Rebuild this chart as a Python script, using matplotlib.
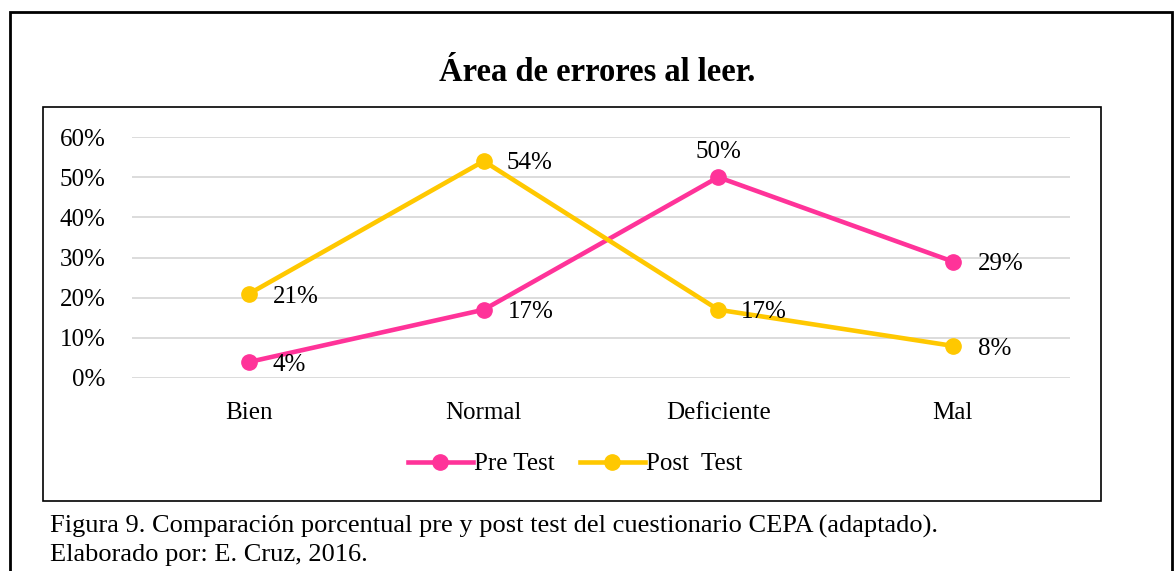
import matplotlib.pyplot as plt
from matplotlib.patches import Rectangle

# data
categories = ['Bien', 'Normal', 'Deficiente', 'Mal']
pre_test = [0.04, 0.17, 0.50, 0.29]
post_test = [0.21, 0.54, 0.17, 0.08]
yticks = [0.0, 0.1, 0.2, 0.3, 0.4, 0.5, 0.6]

pink = '#FF3399'
gold = '#FFC800'

plt.rcParams['font.family'] = ['Liberation Serif', 'DejaVu Serif']

W, H = 1175, 571
fig = plt.figure(figsize=(W / 100, H / 100), dpi=100)

# outer frame and inner chart frame
fig.patches.append(Rectangle((10 / W, -0.01), (1172 - 10) / W, (H - 12) / H + 0.01,
                             transform=fig.transFigure, fill=False, lw=2, ec='black'))
fig.patches.append(Rectangle((43 / W, (H - 501) / H), (1101 - 43) / W, (501 - 107) / H,
                             transform=fig.transFigure, fill=False, lw=1.2, ec='black'))

ax = fig.add_axes([132 / W, (H - 378) / H, (1070 - 132) / W, (378 - 137) / H])
x = range(len(categories))
ax.plot(x, pre_test, color=pink, lw=3.3, marker='o', ms=11, label='Pre Test')
ax.plot(x, post_test, color=gold, lw=3.3, marker='o', ms=11, label='Post  Test')

ax.set_xlim(-0.5, len(categories) - 0.5)
ax.set_ylim(0, 0.6)
ax.set_yticks(yticks)
ax.set_yticklabels([f'{int(round(v * 100))}%' for v in yticks], fontsize=18)
ax.set_xticks(list(x))
ax.set_xticklabels(categories, fontsize=18)
ax.tick_params(axis='y', length=0, pad=19)
ax.tick_params(axis='x', length=0, pad=17)
ax.grid(axis='y', color='#D9D9D9', lw=1.3)
ax.set_axisbelow(True)
for s in ax.spines.values():
    s.set_visible(False)

# data labels (offsets in pixels)
pre_off = [(23, -3), (24, -2), (0, 25), (25, -2)]
post_off = [(24, -3), (23, -2), (23, -2), (25, -3)]
for i, v in enumerate(pre_test):
    ax.annotate(f'{int(round(v * 100))}%', (i, v), xytext=pre_off[i], textcoords='offset pixels',
                fontsize=18, va='center', ha='center' if i == 2 else 'left')
for i, v in enumerate(post_test):
    ax.annotate(f'{int(round(v * 100))}%', (i, v), xytext=post_off[i], textcoords='offset pixels',
                fontsize=18, va='center', ha='left')

fig.text(597 / W, 1 - 72 / H, 'Área de errores al leer.', fontsize=23.5, fontweight='bold',
         ha='center', va='center')

fig.legend(loc='center', bbox_to_anchor=(575 / W, 1 - 464 / H), ncol=2, frameon=False,
           fontsize=18, handlelength=2.6, columnspacing=1.0, handletextpad=0.05)

fig.text(50 / W, 1 - 526 / H, 'Figura 9. Comparación porcentual pre y post test del cuestionario CEPA (adaptado).',
         fontsize=19, ha='left', va='center')
fig.text(50 / W, 1 - 555 / H, 'Elaborado por: E. Cruz, 2016.', fontsize=19, ha='left', va='center')

fig.savefig('out.png', dpi=100)
